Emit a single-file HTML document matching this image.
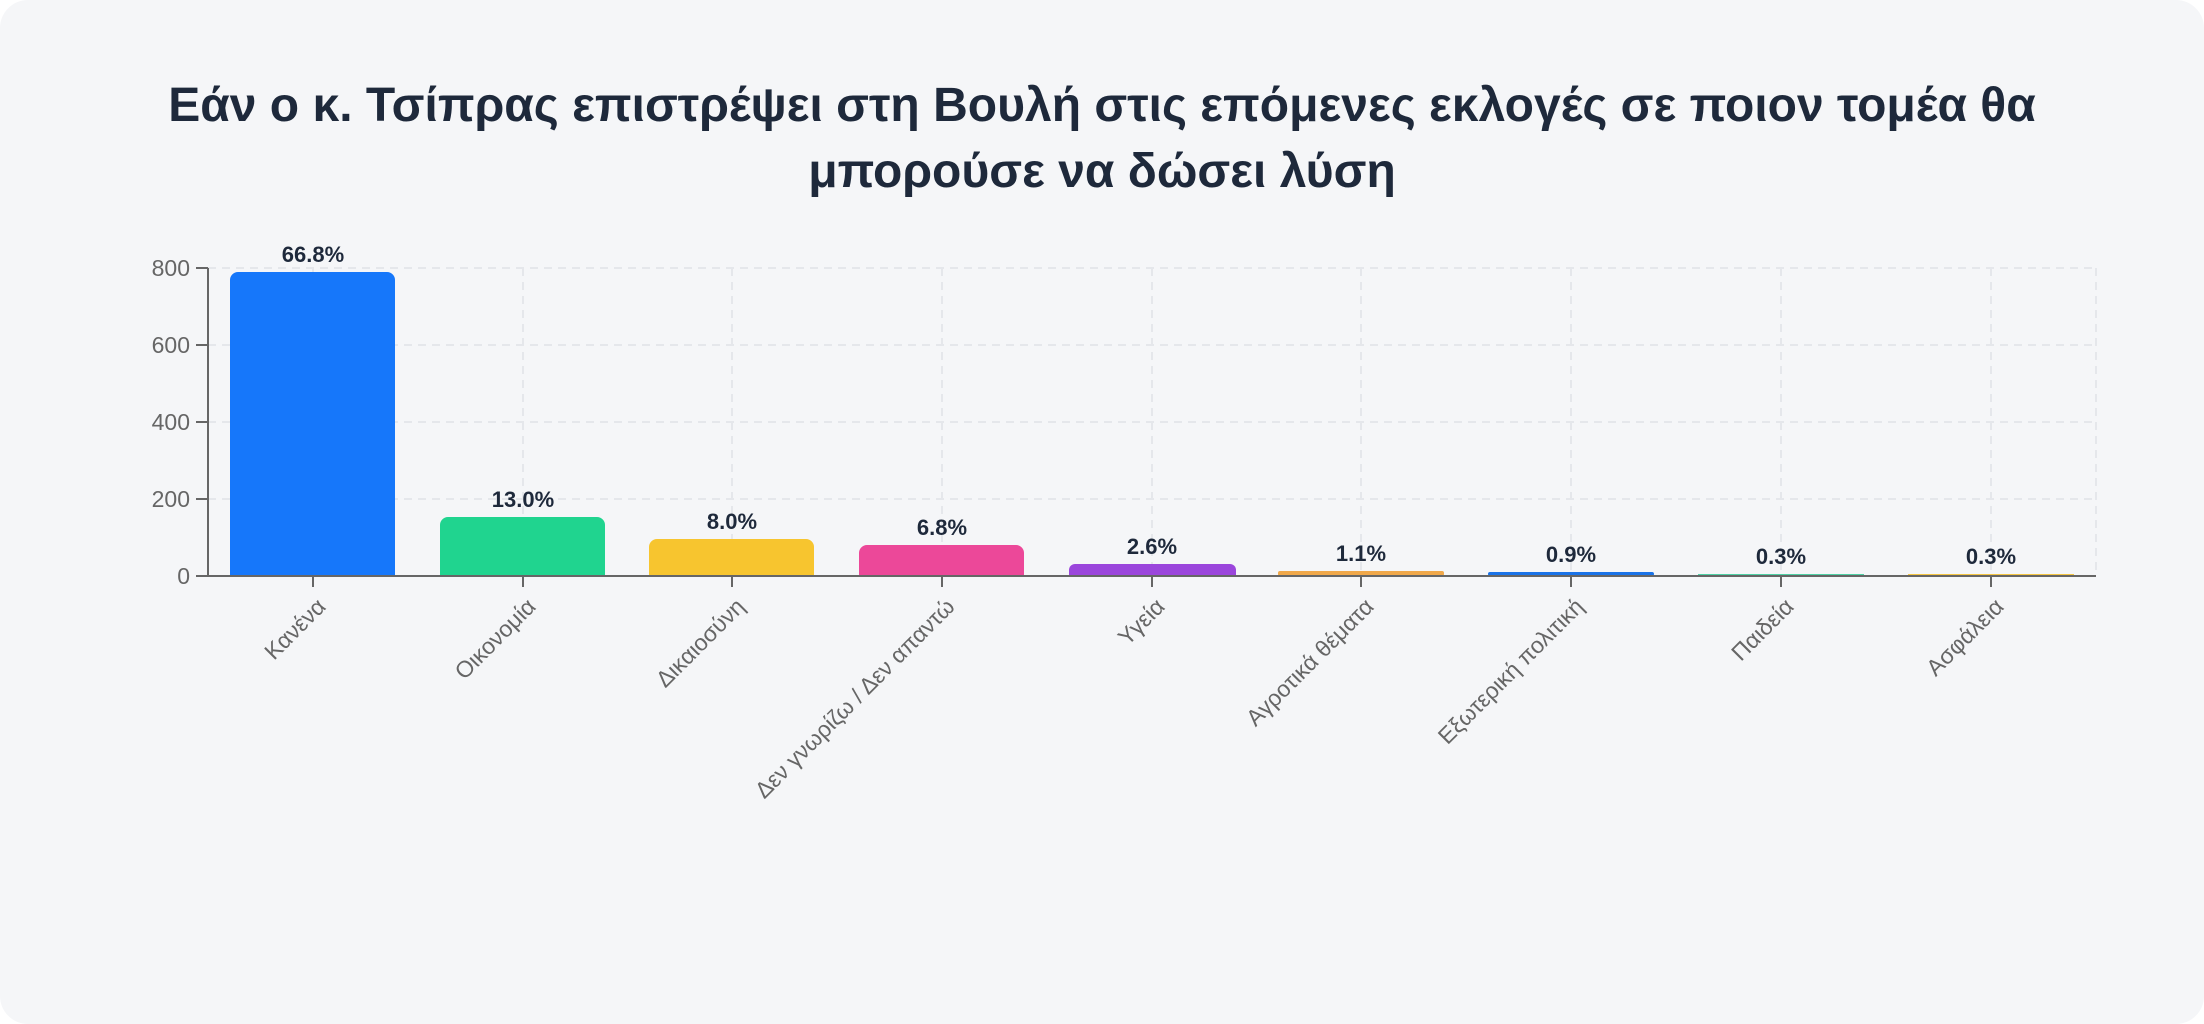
<!DOCTYPE html>
<html><head><meta charset="utf-8"><style>
html,body{margin:0;padding:0;background:#fff;}
body{width:2204px;height:1024px;overflow:hidden;}
.card{position:absolute;left:0;top:0;width:2204px;height:1024px;background:#f5f6f8;border-radius:28px;}
svg{position:absolute;left:0;top:0;}
text{font-family:"Liberation Sans","DejaVu Sans",sans-serif;}
</style></head><body>
<div class="card"></div>
<svg width="2204" height="1024" viewBox="0 0 2204 1024">
<g font-weight="bold" font-size="48" fill="#1e293b" text-anchor="middle">
<text x="1102" y="121">Εάν ο κ. Τσίπρας επιστρέψει στη Βουλή στις επόμενες εκλογές σε ποιον τομέα θα</text>
<text x="1102" y="187">μπορούσε να δώσει λύση</text>
</g>
<g stroke="#e5e7eb" stroke-width="2" stroke-dasharray="8,6" fill="none">
<line x1="208" y1="268" x2="2096" y2="268"/><line x1="208" y1="345" x2="2096" y2="345"/>
<line x1="208" y1="422" x2="2096" y2="422"/><line x1="208" y1="499" x2="2096" y2="499"/>
<line x1="313" y1="268" x2="313" y2="576"/><line x1="523" y1="268" x2="523" y2="576"/>
<line x1="732" y1="268" x2="732" y2="576"/><line x1="942" y1="268" x2="942" y2="576"/>
<line x1="1152" y1="268" x2="1152" y2="576"/><line x1="1361" y1="268" x2="1361" y2="576"/>
<line x1="1571" y1="268" x2="1571" y2="576"/><line x1="1781" y1="268" x2="1781" y2="576"/>
<line x1="1991" y1="268" x2="1991" y2="576"/><line x1="2096" y1="268" x2="2096" y2="576"/>
</g>
<g>
<path d="M230,576V280a8,8 0 0 1 8,-8H387a8,8 0 0 1 8,8V576Z" fill="#1677fa"/>
<path d="M440,576V525a8,8 0 0 1 8,-8H597a8,8 0 0 1 8,8V576Z" fill="#20d48f"/>
<path d="M649,576V547a8,8 0 0 1 8,-8H806a8,8 0 0 1 8,8V576Z" fill="#f7c52f"/>
<path d="M859,576V553a8,8 0 0 1 8,-8H1016a8,8 0 0 1 8,8V576Z" fill="#ec4899"/>
<path d="M1069,576V570a6,6 0 0 1 6,-6H1230a6,6 0 0 1 6,6V576Z" fill="#9b46dc"/>
<rect x="1278" y="571" width="166" height="5" rx="2" fill="#f0a84a"/>
<rect x="1488" y="572" width="166" height="4" rx="2" fill="#1a73e8"/>
<rect x="1698" y="574" width="166" height="2" fill="#4fd1a5"/>
<rect x="1908" y="574" width="166" height="2" fill="#f5c542"/>
</g>
<g stroke="#666" stroke-width="2" fill="none">
<line x1="208" y1="268" x2="208" y2="577"/>
<line x1="207" y1="576" x2="2096" y2="576"/>
<line x1="196" y1="268" x2="208" y2="268"/><line x1="196" y1="345" x2="208" y2="345"/>
<line x1="196" y1="422" x2="208" y2="422"/><line x1="196" y1="499" x2="208" y2="499"/>
<line x1="196" y1="576" x2="208" y2="576"/>
<line x1="313" y1="576" x2="313" y2="587"/><line x1="523" y1="576" x2="523" y2="587"/>
<line x1="732" y1="576" x2="732" y2="587"/><line x1="942" y1="576" x2="942" y2="587"/>
<line x1="1152" y1="576" x2="1152" y2="587"/><line x1="1361" y1="576" x2="1361" y2="587"/>
<line x1="1571" y1="576" x2="1571" y2="587"/><line x1="1781" y1="576" x2="1781" y2="587"/>
<line x1="1991" y1="576" x2="1991" y2="587"/>
</g>
<g font-size="23" fill="#666" text-anchor="end">
<text x="190" y="276">800</text><text x="190" y="353">600</text><text x="190" y="430">400</text>
<text x="190" y="507">200</text><text x="190" y="584">0</text>
</g>
<g font-size="22" font-weight="bold" fill="#1e293b" text-anchor="middle">
<text x="313" y="262">66.8%</text><text x="523" y="507">13.0%</text><text x="732" y="529">8.0%</text>
<text x="942" y="535">6.8%</text><text x="1152" y="554">2.6%</text><text x="1361" y="561">1.1%</text>
<text x="1571" y="562">0.9%</text><text x="1781" y="564">0.3%</text><text x="1991" y="564">0.3%</text>
</g>
<g font-size="23" fill="#666" text-anchor="end">
<text transform="translate(327,608) rotate(-45)">Κανένα</text>
<text transform="translate(537,608) rotate(-45)">Οικονομία</text>
<text transform="translate(746,608) rotate(-45)">Δικαιοσύνη</text>
<text transform="translate(956,608) rotate(-45)">Δεν γνωρίζω / Δεν απαντώ</text>
<text transform="translate(1166,608) rotate(-45)">Υγεία</text>
<text transform="translate(1375,608) rotate(-45)">Αγροτικά θέματα</text>
<text transform="translate(1585,608) rotate(-45)">Εξωτερική πολιτική</text>
<text transform="translate(1795,608) rotate(-45)">Παιδεία</text>
<text transform="translate(2005,608) rotate(-45)">Ασφάλεια</text>
</g>
</svg>
</body></html>
